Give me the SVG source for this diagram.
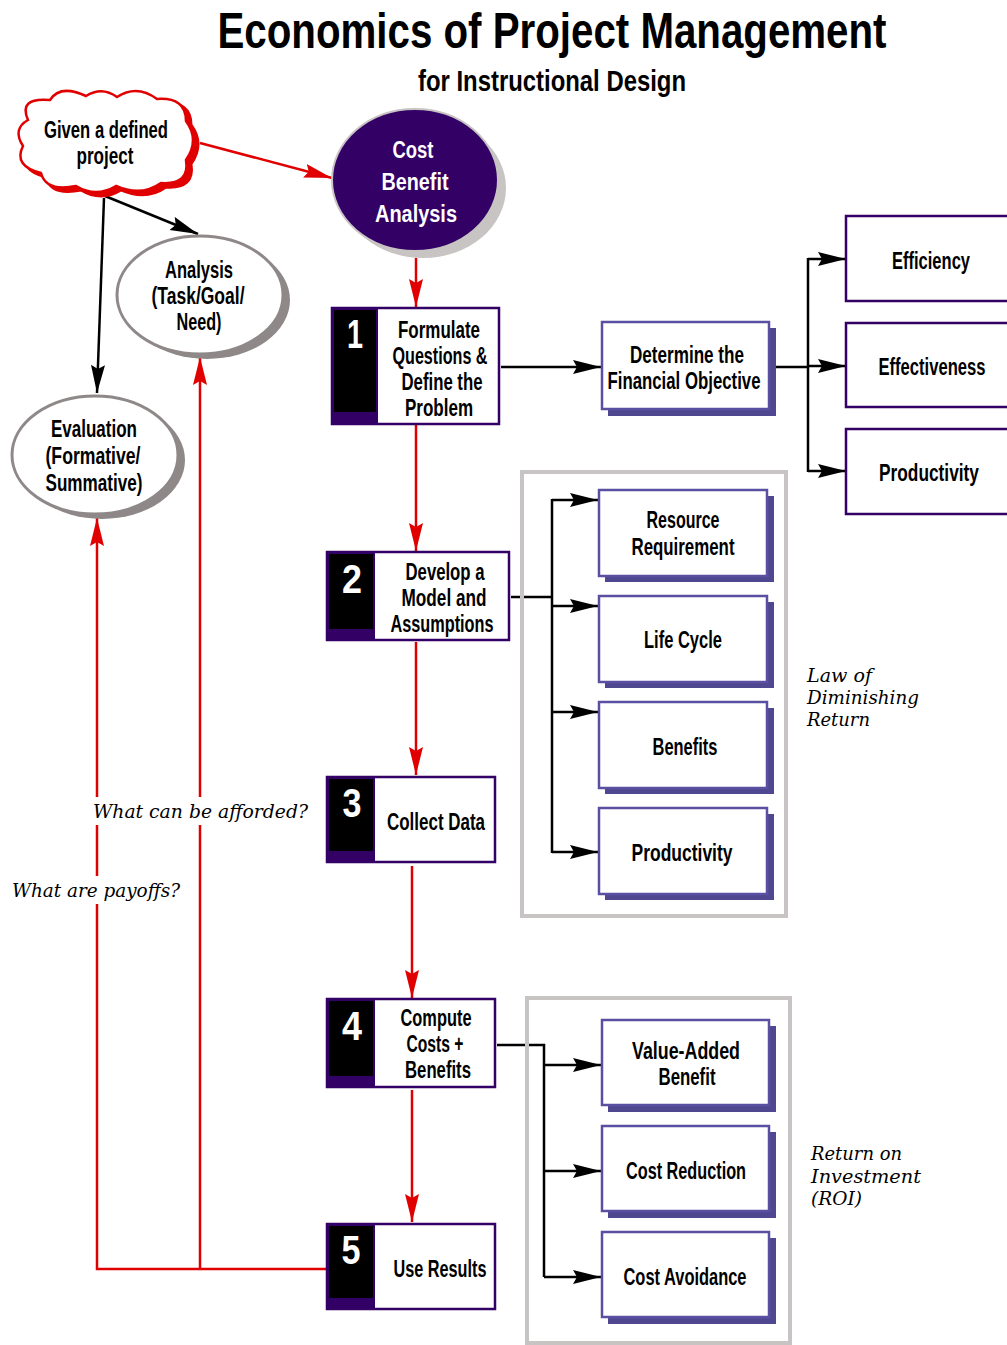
<svg xmlns="http://www.w3.org/2000/svg" width="1007" height="1345" viewBox="0 0 1007 1345">
<style>
.n{font-family:"Liberation Sans",Arial,sans-serif;font-weight:bold;font-size:23px;text-anchor:middle;fill:#000}
.w{fill:#fff}
.num{font-family:"Liberation Sans",Arial,sans-serif;font-weight:bold;font-size:40px;text-anchor:middle;fill:#fff}
.it{font-family:"DejaVu Serif","Liberation Serif",serif;font-style:italic;font-size:19px;fill:#000}
.red{stroke:#e00000;stroke-width:2.5;fill:none}
.blk{stroke:#000;stroke-width:2.5;fill:none}
.step{fill:#fff;stroke:#330066;stroke-width:2.5}
.sub{fill:#fff;stroke:#5a4fa0;stroke-width:2.5}
.shd{fill:#4f4890}
.frame{fill:none;stroke:#c8c4c4;stroke-width:4}
.rb{fill:#fff;stroke:#330066;stroke-width:2.5}
</style>
<defs>
<marker id="ab" markerUnits="userSpaceOnUse" markerWidth="30" markerHeight="16" refX="28" refY="7" orient="auto"><path d="M0,0 L28,7 L0,14 L4,7 Z" fill="#000"/></marker>
<marker id="ar" markerUnits="userSpaceOnUse" markerWidth="30" markerHeight="16" refX="28" refY="7" orient="auto"><path d="M0,0 L28,7 L0,14 L4,7 Z" fill="#e00000"/></marker>
<path id="cloud" d="M28,120 Q18,97 50,100 Q60,84 86,96 Q102,86 117,97 Q137,84 157,99 Q186,97 186,121 Q200,140 186,160 Q190,185 161,183 Q141,197 116,186 Q96,198 76,186 Q46,192 41,173 Q13,166 23,146 Q12,129 28,120 Z"/>
</defs>

<g id="title">
<text x="552" y="48" font-family="'Liberation Sans',Arial,sans-serif" font-weight="bold" font-size="50" text-anchor="middle" textLength="669" lengthAdjust="spacingAndGlyphs">Economics of Project Management</text>
<text x="552" y="91" font-family="'Liberation Sans',Arial,sans-serif" font-weight="bold" font-size="30" text-anchor="middle" textLength="268" lengthAdjust="spacingAndGlyphs">for Instructional Design</text>
</g>

<g id="connectors">
<path class="red" d="M200,143 L332,178" marker-end="url(#ar)"/>
<path class="blk" d="M105,196 L198,234" marker-end="url(#ab)"/>
<path class="blk" d="M104,198 L97,393" marker-end="url(#ab)"/>
<path class="red" d="M416,258 L416,307" marker-end="url(#ar)"/>
<path class="blk" d="M501,367 L601,367" marker-end="url(#ab)"/>
<path class="blk" d="M776,367 L808,367 M808,258 L808,472"/>
<path class="blk" d="M808,259 L846,259" marker-end="url(#ab)"/>
<path class="blk" d="M808,366 L846,366" marker-end="url(#ab)"/>
<path class="blk" d="M808,471 L846,471" marker-end="url(#ab)"/>
<path class="red" d="M416,425 L416,551" marker-end="url(#ar)"/>
<path class="blk" d="M511,597 L552,597 M552,499 L552,853"/>
<path class="blk" d="M552,500 L598,500" marker-end="url(#ab)"/>
<path class="blk" d="M552,606 L598,606" marker-end="url(#ab)"/>
<path class="blk" d="M552,712 L598,712" marker-end="url(#ab)"/>
<path class="blk" d="M552,852 L598,852" marker-end="url(#ab)"/>
<path class="red" d="M416,642 L416,775" marker-end="url(#ar)"/>
<path class="red" d="M412,866 L412,998" marker-end="url(#ar)"/>
<path class="blk" d="M497,1045 L544,1045 L544,1277"/>
<path class="blk" d="M544,1065 L601,1065" marker-end="url(#ab)"/>
<path class="blk" d="M544,1171 L601,1171" marker-end="url(#ab)"/>
<path class="blk" d="M544,1277 L601,1277" marker-end="url(#ab)"/>
<path class="red" d="M412,1090 L412,1222" marker-end="url(#ar)"/>
<path class="red" d="M326,1269 L97,1269 L97,518" marker-end="url(#ar)"/>
<path class="red" d="M200,1269 L200,357" marker-end="url(#ar)"/>
<rect x="90" y="797" width="222" height="28" fill="#fff"/>
<rect x="8" y="876" width="176" height="28" fill="#fff"/>
<text class="it" x="93" y="818" textLength="215" lengthAdjust="spacingAndGlyphs">What can be afforded?</text>
<text class="it" x="12" y="897" textLength="168" lengthAdjust="spacingAndGlyphs">What are payoffs?</text>
</g>

<g id="cloud-given">
<use href="#cloud" transform="translate(5,4)" fill="#e00000" stroke="#e00000" stroke-width="3"/>
<use href="#cloud" fill="#fff" stroke="#e00000" stroke-width="2.5"/>
<text class="n" x="106" y="138" font-size="21" textLength="124" lengthAdjust="spacingAndGlyphs">Given a defined</text>
<text class="n" x="105" y="164" font-size="21" textLength="57" lengthAdjust="spacingAndGlyphs">project</text>
</g>

<g id="cba">
<ellipse cx="423" cy="188" rx="83" ry="70" fill="#c8c4c4"/>
<ellipse cx="415" cy="180" rx="83" ry="71" fill="#330066" stroke="#c8c4c4" stroke-width="2"/>
<text class="n w" x="413" y="158" font-size="27" textLength="41" lengthAdjust="spacingAndGlyphs">Cost</text>
<text class="n w" x="415" y="190" font-size="27" textLength="67" lengthAdjust="spacingAndGlyphs">Benefit</text>
<text class="n w" x="416" y="222" font-size="27" textLength="82" lengthAdjust="spacingAndGlyphs">Analysis</text>
</g>

<g id="analysis">
<ellipse cx="207" cy="300" rx="83" ry="59" fill="#8f8888"/>
<ellipse cx="200" cy="295" rx="83" ry="59" fill="#fff" stroke="#8f8888" stroke-width="3"/>
<text class="n" x="199" y="278" font-size="22" textLength="68" lengthAdjust="spacingAndGlyphs">Analysis</text>
<text class="n" x="198" y="304" font-size="22" textLength="93" lengthAdjust="spacingAndGlyphs">(Task/Goal/</text>
<text class="n" x="199" y="330" font-size="22" textLength="45" lengthAdjust="spacingAndGlyphs">Need)</text>
</g>

<g id="evaluation">
<ellipse cx="102" cy="460" rx="83" ry="59" fill="#8f8888"/>
<ellipse cx="95" cy="455" rx="83" ry="59" fill="#fff" stroke="#8f8888" stroke-width="3"/>
<text class="n" x="94" y="437" font-size="22" textLength="86" lengthAdjust="spacingAndGlyphs">Evaluation</text>
<text class="n" x="93" y="464" font-size="22" textLength="95" lengthAdjust="spacingAndGlyphs">(Formative/</text>
<text class="n" x="94" y="491" font-size="22" textLength="97" lengthAdjust="spacingAndGlyphs">Summative)</text>
</g>

<g id="step1">
<rect class="step" x="332" y="308" width="167" height="116"/>
<rect x="332" y="308" width="46" height="116" fill="#330066"/>
<rect x="334" y="310" width="42" height="102" fill="#000"/>
<text class="num" x="355" y="348" textLength="16" lengthAdjust="spacingAndGlyphs">1</text>
<text class="n" x="439" y="338" textLength="82" lengthAdjust="spacingAndGlyphs">Formulate</text>
<text class="n" x="440" y="364" textLength="95" lengthAdjust="spacingAndGlyphs">Questions &amp;</text>
<text class="n" x="442" y="390" textLength="81" lengthAdjust="spacingAndGlyphs">Define the</text>
<text class="n" x="439" y="416" textLength="68" lengthAdjust="spacingAndGlyphs">Problem</text>
</g>

<g id="financial">
<rect class="shd" x="608" y="328" width="168" height="88"/>
<rect class="sub" x="602" y="322" width="167" height="87"/>
<text class="n" x="687" y="363" textLength="114" lengthAdjust="spacingAndGlyphs">Determine the</text>
<text class="n" x="684" y="389" textLength="153" lengthAdjust="spacingAndGlyphs">Financial Objective</text>
</g>

<g id="efficiency">
<rect class="rb" x="846" y="216" width="164" height="85"/>
<text class="n" x="931" y="269" textLength="78" lengthAdjust="spacingAndGlyphs">Efficiency</text>
</g>
<g id="effectiveness">
<rect class="rb" x="846" y="323" width="164" height="84"/>
<text class="n" x="932" y="375" textLength="107" lengthAdjust="spacingAndGlyphs">Effectiveness</text>
</g>
<g id="productivity1">
<rect class="rb" x="846" y="429" width="164" height="85"/>
<text class="n" x="929" y="481" textLength="100" lengthAdjust="spacingAndGlyphs">Productivity</text>
</g>

<g id="frame1"><rect class="frame" x="522" y="472" width="264" height="444"/></g>

<g id="step2">
<rect class="step" x="327" y="552" width="182" height="88"/>
<rect x="327" y="552" width="48" height="88" fill="#330066"/>
<rect x="329" y="554" width="44" height="75" fill="#000"/>
<text class="num" x="352" y="593" textLength="20" lengthAdjust="spacingAndGlyphs">2</text>
<text class="n" x="445" y="580" textLength="79" lengthAdjust="spacingAndGlyphs">Develop a</text>
<text class="n" x="444" y="606" textLength="85" lengthAdjust="spacingAndGlyphs">Model and</text>
<text class="n" x="442" y="632" textLength="103" lengthAdjust="spacingAndGlyphs">Assumptions</text>
</g>

<g id="resource">
<rect class="shd" x="605" y="496" width="169" height="86"/>
<rect class="sub" x="599" y="490" width="168" height="86"/>
<text class="n" x="683" y="528" textLength="73" lengthAdjust="spacingAndGlyphs">Resource</text>
<text class="n" x="683" y="555" textLength="103" lengthAdjust="spacingAndGlyphs">Requirement</text>
</g>
<g id="lifecycle">
<rect class="shd" x="605" y="602" width="169" height="86"/>
<rect class="sub" x="599" y="596" width="168" height="86"/>
<text class="n" x="683" y="648" textLength="78" lengthAdjust="spacingAndGlyphs">Life Cycle</text>
</g>
<g id="benefits">
<rect class="shd" x="605" y="708" width="169" height="86"/>
<rect class="sub" x="599" y="702" width="168" height="86"/>
<text class="n" x="685" y="755" textLength="65" lengthAdjust="spacingAndGlyphs">Benefits</text>
</g>
<g id="productivity2">
<rect class="shd" x="605" y="814" width="169" height="86"/>
<rect class="sub" x="599" y="808" width="168" height="86"/>
<text class="n" x="682" y="861" textLength="101" lengthAdjust="spacingAndGlyphs">Productivity</text>
</g>

<g id="law">
<text class="it" x="807" y="682" textLength="65" lengthAdjust="spacingAndGlyphs">Law of</text>
<text class="it" x="807" y="704" textLength="112" lengthAdjust="spacingAndGlyphs">Diminishing</text>
<text class="it" x="807" y="726" textLength="63" lengthAdjust="spacingAndGlyphs">Return</text>
</g>

<g id="step3">
<rect class="step" x="327" y="777" width="168" height="85"/>
<rect x="327" y="777" width="48" height="85" fill="#330066"/>
<rect x="329" y="779" width="44" height="72" fill="#000"/>
<text class="num" x="352" y="817" textLength="19" lengthAdjust="spacingAndGlyphs">3</text>
<text class="n" x="436" y="830" textLength="98" lengthAdjust="spacingAndGlyphs">Collect Data</text>
</g>

<g id="step4">
<rect class="step" x="327" y="999" width="168" height="88"/>
<rect x="327" y="999" width="48" height="88" fill="#330066"/>
<rect x="329" y="1001" width="44" height="75" fill="#000"/>
<text class="num" x="352" y="1040" textLength="20" lengthAdjust="spacingAndGlyphs">4</text>
<text class="n" x="436" y="1026" textLength="71" lengthAdjust="spacingAndGlyphs">Compute</text>
<text class="n" x="435" y="1052" textLength="57" lengthAdjust="spacingAndGlyphs">Costs +</text>
<text class="n" x="438" y="1078" textLength="66" lengthAdjust="spacingAndGlyphs">Benefits</text>
</g>

<g id="frame2"><rect class="frame" x="527" y="998" width="263" height="345"/></g>

<g id="valueadded">
<rect class="shd" x="608" y="1026" width="168" height="86"/>
<rect class="sub" x="602" y="1020" width="167" height="85"/>
<text class="n" x="686" y="1059" textLength="108" lengthAdjust="spacingAndGlyphs">Value-Added</text>
<text class="n" x="687" y="1085" textLength="57" lengthAdjust="spacingAndGlyphs">Benefit</text>
</g>
<g id="costreduction">
<rect class="shd" x="608" y="1132" width="168" height="86"/>
<rect class="sub" x="602" y="1126" width="167" height="85"/>
<text class="n" x="686" y="1179" textLength="120" lengthAdjust="spacingAndGlyphs">Cost Reduction</text>
</g>
<g id="costavoidance">
<rect class="shd" x="608" y="1238" width="168" height="86"/>
<rect class="sub" x="602" y="1232" width="167" height="85"/>
<text class="n" x="685" y="1285" textLength="123" lengthAdjust="spacingAndGlyphs">Cost Avoidance</text>
</g>

<g id="roi">
<text class="it" x="811" y="1160" textLength="91" lengthAdjust="spacingAndGlyphs">Return on</text>
<text class="it" x="811" y="1183" textLength="110" lengthAdjust="spacingAndGlyphs">Investment</text>
<text class="it" x="811" y="1205" textLength="51" lengthAdjust="spacingAndGlyphs">(ROI)</text>
</g>

<g id="step5">
<rect class="step" x="327" y="1224" width="168" height="85"/>
<rect x="327" y="1224" width="48" height="85" fill="#330066"/>
<rect x="329" y="1226" width="44" height="72" fill="#000"/>
<text class="num" x="351" y="1264" textLength="19" lengthAdjust="spacingAndGlyphs">5</text>
<text class="n" x="440" y="1277" textLength="93" lengthAdjust="spacingAndGlyphs">Use Results</text>
</g>
</svg>
